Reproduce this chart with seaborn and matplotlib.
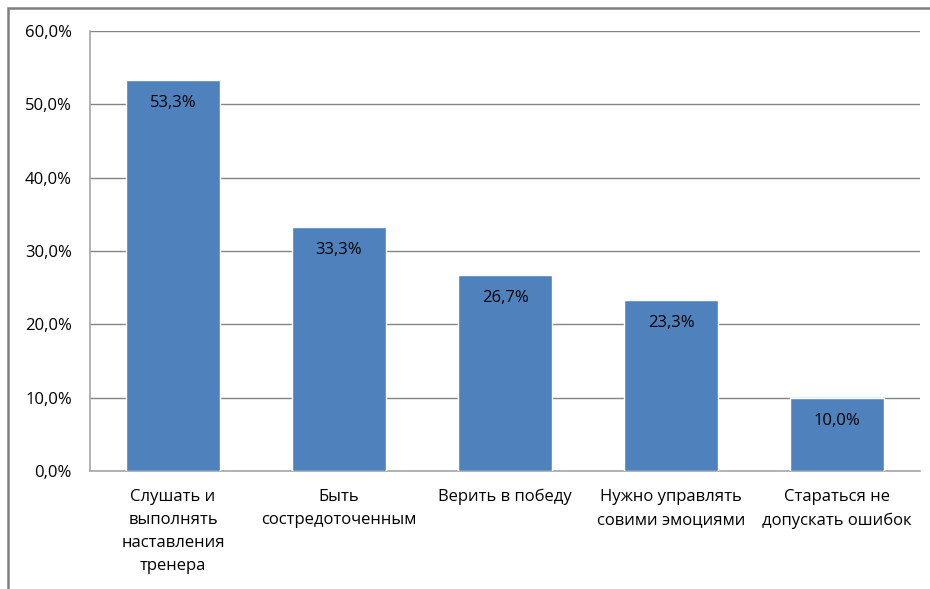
import numpy as np
import pandas as pd
import matplotlib.pyplot as plt
import seaborn as sns
from matplotlib.patches import Rectangle
from matplotlib.ticker import FuncFormatter

# Dados do gráfico
categorias = ["Слушать и\nвыполнять\nнаставления\nтренера",
              "Быть\nсостредоточенным",
              "Верить в победу",
              "Нужно управлять\nсовими эмоциями",
              "Стараться не\nдопускать ошибок"]
valores = [0.533, 0.333, 0.267, 0.233, 0.100]
rotulos = ["53,3%", "33,3%", "26,7%", "23,3%", "10,0%"]

df = pd.DataFrame({"categoria": categorias, "valor": valores})

sns.set_style("white")
plt.rcParams['font.family'] = ['Open Sans', 'DejaVu Sans']

fig = plt.figure(figsize=(9.3, 5.89), dpi=100)
ax = fig.add_axes([90 / 930, 1 - 471 / 589, 830 / 930, 440 / 589])

sns.barplot(data=df, x="categoria", y="valor", color="#4F81BD",
            saturation=1, width=0.57, ax=ax, zorder=3)

ax.set_ylim(0, 0.6)
ax.set_yticks(np.arange(0, 0.61, 0.1))
ax.yaxis.set_major_formatter(FuncFormatter(lambda v, p: f"{v * 100:.1f}%".replace(".", ",")))
ax.grid(axis='y', color='#848484', linewidth=1, zorder=0)
ax.set_axisbelow(True)

for s in ['top', 'right']:
    ax.spines[s].set_visible(False)
for s in ['left', 'bottom']:
    ax.spines[s].set_color('#A6A6A6')
    ax.spines[s].set_linewidth(1.2)

ax.tick_params(axis='y', length=0, pad=13, labelsize=12, labelcolor='#000000')
ax.tick_params(axis='x', length=0, pad=13, labelsize=12, labelcolor='#000000')
for lbl in ax.get_xticklabels():
    lbl.set_linespacing(1.58)
ax.set_xlabel("")
ax.set_ylabel("")

# Rótulos de dados dentro das barras
for i, (v, r) in enumerate(zip(valores, rotulos)):
    ax.annotate(r, xy=(i, v), xytext=(0, -16.5), textcoords='offset points',
                ha='center', va='center', fontsize=12, color='#000000')

# Moldura externa do gráfico
fig.patches.append(Rectangle((8 / 930, -0.1), 1.2, 1.1 - 8 / 589,
                             transform=fig.transFigure, fill=False,
                             edgecolor='#7F7F7F', linewidth=1.8))

fig.savefig("out.png", dpi=100)
